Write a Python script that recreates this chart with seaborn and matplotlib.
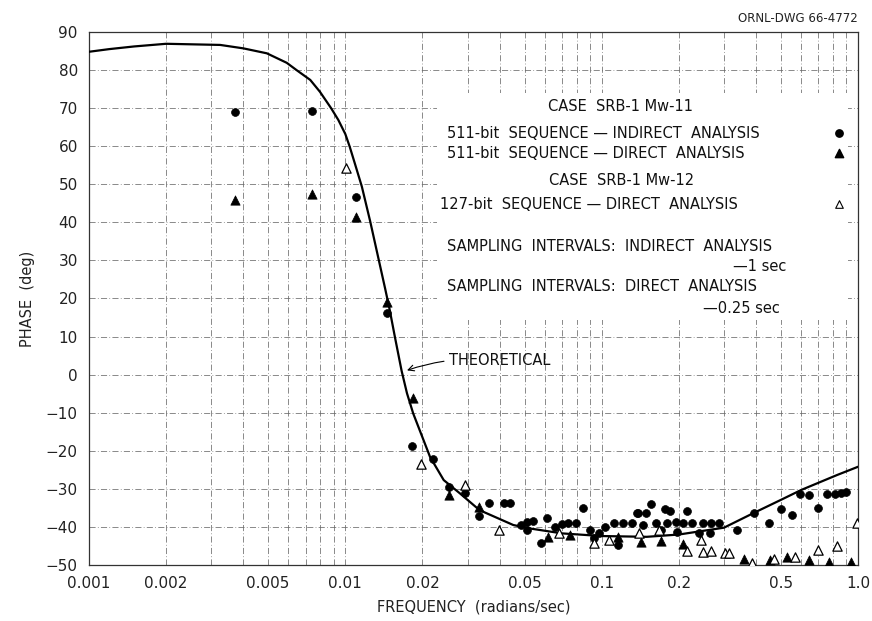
import numpy as np
import pandas as pd
import seaborn as sns
import matplotlib.pyplot as plt
from matplotlib.patches import Rectangle
from matplotlib.ticker import FixedLocator, FixedFormatter, LogLocator, NullFormatter

# theoretical phase curve
theory_freq = [0.001, 0.0012, 0.0015, 0.002, 0.00325, 0.004, 0.00494, 0.00591, 0.00645, 0.0073,
               0.00796, 0.0088, 0.00939, 0.01, 0.0104, 0.01089, 0.0116, 0.0125, 0.0143, 0.0149,
               0.0156, 0.01658, 0.0174, 0.0184, 0.0214, 0.0242, 0.028, 0.0334, 0.0452, 0.0524,
               0.07, 0.1, 0.15, 0.2, 0.3, 0.39, 0.5, 0.6, 0.826, 1.0]
theory_phase = [84.8, 85.5, 86.2, 86.9, 86.6, 85.7, 84.4, 81.9, 80.0, 77.4,
                74.3, 70.0, 66.9, 63.2, 59.9, 55.5, 49.4, 40.3, 22.6, 17.0,
                10.0, 1.0, -4.9, -10.2, -21.6, -27.7, -31.2, -35.6, -39.5, -40.4,
                -41.7, -42.4, -42.6, -42.0, -40.2, -36.4, -32.9, -30.3, -26.4, -24.2]

# case SRB-1 Mw-11, 511-bit sequence, indirect analysis
indirect_freq = [0.0037, 0.0074, 0.0110, 0.0146, 0.0182, 0.0219, 0.0254, 0.0293, 0.0332, 0.0363,
                 0.0415, 0.044, 0.0485, 0.051, 0.054, 0.051, 0.058, 0.0611, 0.0659, 0.0699,
                 0.0742, 0.0795, 0.0844, 0.0899, 0.093, 0.098, 0.103, 0.112, 0.116, 0.121,
                 0.131, 0.137, 0.139, 0.145, 0.149, 0.156, 0.163, 0.171, 0.177, 0.179,
                 0.185, 0.195, 0.197, 0.207, 0.215, 0.226, 0.24, 0.248, 0.265, 0.268,
                 0.287, 0.337, 0.393, 0.451, 0.50, 0.552, 0.594, 0.642, 0.697, 0.76,
                 0.81, 0.86, 0.90]
indirect_phase = [69.0, 69.3, 46.7, 16.1, -18.7, -22.2, -29.4, -31.0, -37.1, -33.8,
                  -33.6, -33.6, -39.5, -38.6, -38.4, -40.8, -44.3, -37.6, -39.9, -39.3,
                  -39.0, -39.0, -35.0, -40.8, -43.0, -41.7, -39.9, -39.0, -44.8, -39.0,
                  -39.0, -36.4, -36.4, -39.5, -36.4, -34.0, -39.0, -40.8, -35.4, -39.0,
                  -35.7, -38.6, -41.3, -39.0, -35.7, -39.0, -41.5, -39.0, -41.7, -39.0,
                  -39.0, -40.8, -36.4, -38.9, -35.4, -37.0, -31.4, -31.6, -35.0, -31.4,
                  -31.4, -31.2, -30.8]

# case SRB-1 Mw-11, 511-bit sequence, direct analysis
direct511_freq = [0.0037, 0.0074, 0.0110, 0.0146, 0.0183, 0.0254, 0.0332, 0.0617, 0.0754, 0.1156,
                  0.142, 0.170, 0.207, 0.359, 0.453, 0.527, 0.642, 0.767, 0.937]
direct511_phase = [45.9, 47.4, 41.3, 19.2, -6.2, -31.7, -34.7, -42.6, -42.1, -42.6,
                   -43.9, -43.7, -44.6, -48.3, -48.7, -47.8, -48.7, -49.1, -49.1]

# case SRB-1 Mw-12, 127-bit sequence, direct analysis
direct127_freq = [0.0101, 0.0197, 0.0293, 0.0397, 0.0684, 0.093, 0.107, 0.140, 0.168, 0.215,
                  0.2435, 0.248, 0.268, 0.304, 0.315, 0.386, 0.47, 0.57, 0.695, 0.826, 0.99]
direct127_phase = [54.4, -23.5, -29.0, -40.8, -41.7, -44.3, -43.4, -41.5, -40.8, -46.2,
                   -43.4, -46.5, -46.2, -46.9, -46.9, -49.6, -48.5, -47.8, -46.1, -45.0, -39.1]

x_ticks = [0.001, 0.002, 0.005, 0.01, 0.02, 0.05, 0.1, 0.2, 0.5, 1.0]
x_labels = ['0.001', '0.002', '0.005', '0.01', '0.02', '0.05', '0.1', '0.2', '0.5', '1.0']
y_ticks = list(range(-50, 91, 10))

sns.set_style('white')
plt.rcParams['font.family'] = ['DejaVu Sans']

theory = pd.DataFrame({'freq': theory_freq, 'phase': theory_phase})
ind = pd.DataFrame({'freq': indirect_freq, 'phase': indirect_phase})
d511 = pd.DataFrame({'freq': direct511_freq, 'phase': direct511_phase})
d127 = pd.DataFrame({'freq': direct127_freq, 'phase': direct127_phase})

fig = plt.figure(figsize=(8.72, 6.21), dpi=100)
ax = fig.add_axes([0.102, 0.0902, 0.882, 0.8583])
ax.set_xscale('log')

sns.lineplot(data=theory, x='freq', y='phase', ax=ax, color='black', lw=1.6,
             sort=False, zorder=3)
sns.scatterplot(data=ind, x='freq', y='phase', ax=ax, marker='o', s=32,
                color='black', edgecolor='black', linewidth=0.5, zorder=4)
sns.scatterplot(data=d511, x='freq', y='phase', ax=ax, marker='^', s=45,
                color='black', edgecolor='black', linewidth=0.5, zorder=4)
sns.scatterplot(data=d127, x='freq', y='phase', ax=ax, marker='^', s=45,
                facecolor='white', edgecolor='black', linewidth=0.9, zorder=4)

ax.set_xlim(0.001, 1.0)
ax.set_ylim(-50, 90)
ax.xaxis.set_major_locator(FixedLocator(x_ticks))
ax.xaxis.set_major_formatter(FixedFormatter(x_labels))
ax.xaxis.set_minor_locator(LogLocator(base=10, subs=np.arange(1, 10)))
ax.xaxis.set_minor_formatter(NullFormatter())
ax.set_yticks(y_ticks)
ax.tick_params(axis='both', which='both', length=0, labelsize=11, colors='#222222', pad=8)

gs = dict(color='#6a6a6a', lw=0.55, linestyle=(0, (8, 3, 1, 3)))
ax.grid(True, which='both', axis='x', **gs)
ax.grid(True, which='major', axis='y', **gs)
for sp in ax.spines.values():
    sp.set_color('#333333')
    sp.set_linewidth(0.9)

ax.set_xlabel('FREQUENCY  (radians/sec)', fontsize=10.5, color='#222222', labelpad=6)
ax.set_ylabel('PHASE  (deg)', fontsize=10.5, color='#222222', labelpad=8)

# blank panel for the key
ax.add_patch(Rectangle((0.452, 0.46), 0.535, 0.425, transform=ax.transAxes,
                       facecolor='white', edgecolor='none', zorder=2))
kw = dict(transform=ax.transAxes, fontsize=10.5, color='#111111', zorder=5, va='center')
ax.text(0.6905, 0.860, 'CASE  SRB-1 Mw-11', ha='center', **kw)
ax.text(0.465, 0.810, '511-bit  SEQUENCE — INDIRECT  ANALYSIS', ha='left', **kw)
ax.text(0.465, 0.772, '511-bit  SEQUENCE — DIRECT  ANALYSIS', ha='left', **kw)
ax.text(0.693, 0.722, 'CASE  SRB-1 Mw-12', ha='center', **kw)
ax.text(0.457, 0.677, '127-bit  SEQUENCE — DIRECT  ANALYSIS', ha='left', **kw)
ax.text(0.465, 0.597, 'SAMPLING  INTERVALS:  INDIRECT  ANALYSIS', ha='left', **kw)
ax.text(0.907, 0.560, '—1 sec', ha='right', **kw)
ax.text(0.465, 0.522, 'SAMPLING  INTERVALS:  DIRECT  ANALYSIS', ha='left', **kw)
ax.text(0.8985, 0.4816, '—0.25 sec', ha='right', **kw)
ax.scatter([0.975], [0.8105], transform=ax.transAxes, marker='o', s=28, color='black', zorder=5)
ax.scatter([0.975], [0.773], transform=ax.transAxes, marker='^', s=36, color='black', zorder=5)
ax.scatter([0.975], [0.677], transform=ax.transAxes, marker='^', s=30, facecolor='white',
           edgecolor='black', linewidth=0.8, zorder=5)

ax.annotate('THEORETICAL', xy=(0.0172, 1.0), xytext=(0.0253, 3.6), fontsize=10.5,
            color='#111111', va='center', ha='left',
            arrowprops=dict(arrowstyle='->', color='black', lw=0.8,
                            shrinkA=1, shrinkB=1,
                            connectionstyle='arc3,rad=0.12'))

fig.text(0.984, 0.971, 'ORNL-DWG 66-4772', ha='right', va='center', fontsize=8.5, color='#222222')

fig.savefig('out.png', dpi=100)
